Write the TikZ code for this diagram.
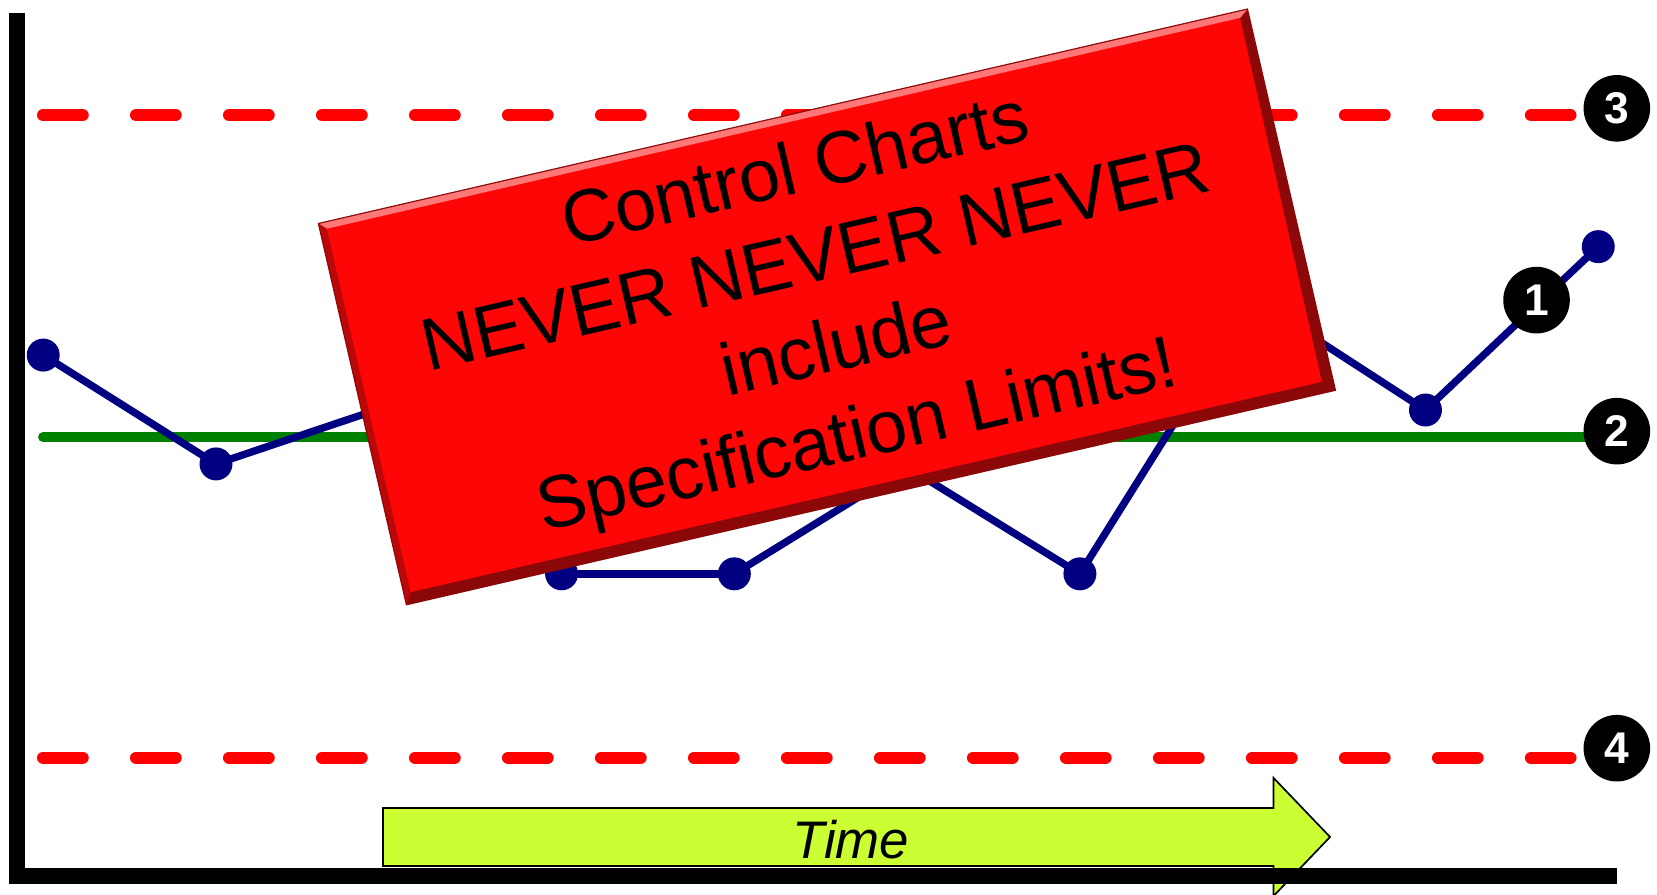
\documentclass[tikz,border=0pt]{standalone}
\usepackage{fontspec}
\setmainfont{Liberation Sans}
\usetikzlibrary{calc}
\definecolor{limitred}{RGB}{255,0,0}
\definecolor{meangreen}{RGB}{0,128,0}
\definecolor{seriesblue}{RGB}{0,0,128}
\definecolor{signred}{RGB}{255,6,6}
\definecolor{signdark}{RGB}{140,8,8}
\definecolor{signlight}{RGB}{255,120,120}
\definecolor{timelime}{RGB}{204,255,51}
\newcommand*{\ucl}{109}
\newcommand*{\lcl}{717}
\newcommand*{\cl }{413.6}
\newcommand*{\sw }{225.25pt}
\newcommand*{\sh }{92.25pt}

\begin{document}
\begin{tikzpicture}[x=0.5pt,y=-0.5pt,
    limit/.style={draw=limitred, line width=5.85pt, line cap=round, dash pattern=on 18.65pt off 25.35pt},
    mean/.style={draw=meangreen, line width=4.75pt, line cap=round},
    series/.style={draw=seriesblue, line width=3.5pt},
    dot/.style={circle, fill=seriesblue, minimum size=15.6pt, inner sep=0pt},
    badge/.style={circle, fill=black, text=white, minimum size=31.5pt, inner sep=0pt, font=\bfseries\fontsize{21}{21}\selectfont},
    axis/.style={draw=black, line width=7.5pt}]
    \useasboundingbox (0,0) rectangle (1568,846);
    % limits and centre line
    \coordinate (ucl0) at (40.85,\ucl);  \coordinate (ucl1) at (1486,\ucl);
    \coordinate (lcl0) at (40.85,\lcl);  \coordinate (lcl1) at (1486,\lcl);
    \coordinate (cl0)  at (40.75,\cl);   \coordinate (cl1)  at (1520,\cl);
    \draw [limit] (ucl0) -- (ucl1);
    \draw [limit] (lcl0) -- (lcl1);
    \draw [mean]  (cl0) -- (cl1);
    % data
    \foreach \x/\y [count=\i] in {40.9/336,204.4/439,367.9/384,531.4/543,694.9/543,858.4/442,1021.9/543,1185.4/282,1348.9/388,1512.4/233.4}
        \node [dot] (p\i) at (\x,\y) {};
    \foreach \i [evaluate=\i as \j using int(\i+1)] in {1,...,9}
        \draw [series] (p\i.center) -- (p\j.center);
    % time arrow
    \draw [fill=timelime, draw=black, line width=0.8pt] (362.5,764.6) -- (1205,764.6) -- (1205,736) -- (1258.6,792) -- (1205,848) -- (1205,819.5) -- (362.5,819.5) -- cycle;
    \node [anchor=base, font=\itshape\fontsize{25}{25}\selectfont] (time) at (805,812) {Time};
    % axes
    \coordinate (orig) at (16.4,829);
    \draw [axis] (16.4,12) -- (16.4,836.5);
    \draw [axis] (9,829) -- (1530,829);
    % sign
    \node [rotate=13, fill=signred, draw=signdark, line width=1.2pt, minimum width=450.5pt, minimum height=184.5pt, inner sep=0pt,
           align=center, font=\fontsize{35}{43}\selectfont] (sign) at (782.5,290.4)
          {Control Charts\\NEVER NEVER NEVER\\include\\Specification Limits!};
    \begin{scope}[shift={(sign.center)}, rotate=13]
        \fill [signdark]  (-\sw,-\sh) -- (\sw,-\sh) -- ($(\sw,-\sh)+(-5pt,5pt)$) -- ($(-\sw,-\sh)+(3pt,5pt)$) -- cycle;
        \fill [signdark]  (\sw,-\sh) -- (\sw,\sh) -- ($(\sw,\sh)+(-4pt,-3pt)$) -- ($(\sw,-\sh)+(-5pt,5pt)$) -- cycle;
        \fill [signlight] (-\sw,\sh) -- (\sw,\sh) -- ($(\sw,\sh)+(-4pt,-3pt)$) -- ($(-\sw,\sh)+(3pt,-3pt)$) -- cycle;
        \fill [signdark!60!signred] (-\sw,\sh) -- (-\sw,-\sh) -- ($(-\sw,-\sh)+(3pt,5pt)$) -- ($(-\sw,\sh)+(3pt,-3pt)$) -- cycle;
    \end{scope}
    % badges
    \node [badge] (b1) at (1454,284)   {1};
    \node [badge] (b2) at (1530,408)   {2};
    \node [badge] (b3) at (1530,102.5) {3};
    \node [badge] (b4) at (1530,708)   {4};
\end{tikzpicture}
\end{document}
